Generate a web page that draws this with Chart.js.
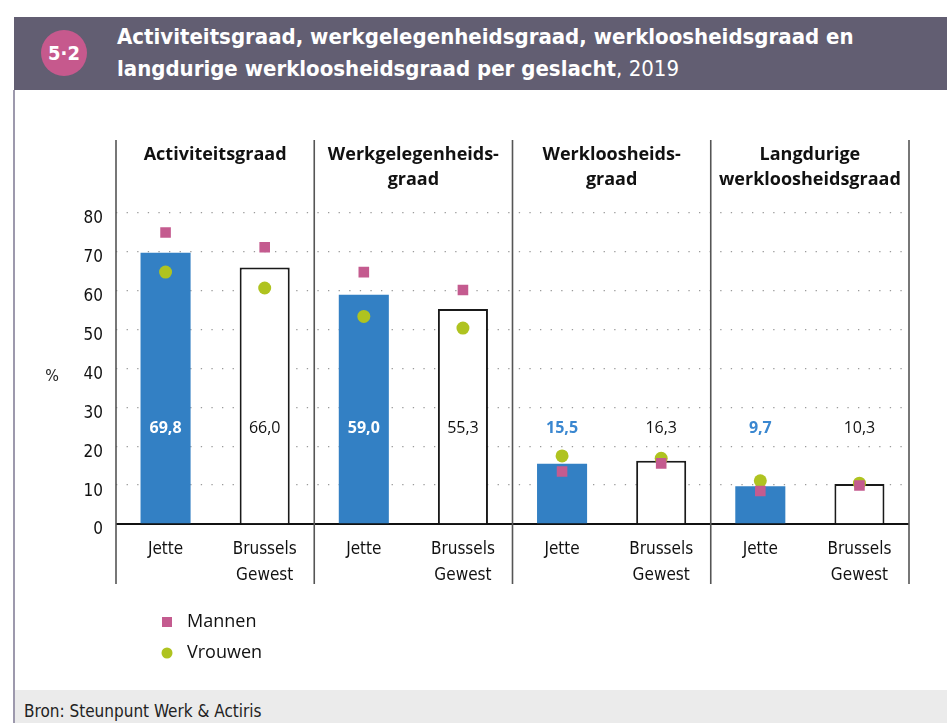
<!DOCTYPE html>
<html>
<head>
<meta charset="utf-8">
<script src="https://cdn.jsdelivr.net/npm/chart.js@4/dist/chart.umd.min.js"></script>
<style>
  html, body { margin: 0; padding: 0; background: #fff; }
  body { width: 947px; height: 723px; position: relative; overflow: hidden; font-family: 'Liberation Sans', sans-serif; }
  #header { position: absolute; left: 14px; top: 17px; width: 933px; height: 73px; background: #625e72; }
  #badge { position: absolute; left: 41px; top: 30px; width: 46px; height: 46px; border-radius: 50%; background: #c6598d;
           color: #fff; font: bold 20px 'DejaVu Sans Condensed', sans-serif; text-align: center; line-height: 46px; }
  #title { position: absolute; left: 117px; top: 21px; color: #fff; font: bold 22px 'DejaVu Sans Condensed', sans-serif; line-height: 32px; letter-spacing: 0px; }
  #title span { font-weight: normal; }
  #leftrule { position: absolute; left: 13px; top: 90px; width: 2px; height: 633px; background: #9d99ad; }
  #footer { position: absolute; left: 15px; top: 690px; width: 932px; height: 33px; background: #ebebeb; }
  #source { position: absolute; left: 24px; top: 701px; font: 17px 'DejaVu Sans Condensed', sans-serif; color: #222; }
  #chart { position: absolute; left: 14px; top: 90px; }
</style>
</head>
<body>
<div id="header"></div>
<div id="badge">5·2</div>
<div id="title">Activiteitsgraad, werkgelegenheidsgraad, werkloosheidsgraad en<br>langdurige werkloosheidsgraad per geslacht<span>, 2019</span></div>
<div id="leftrule"></div>
<div id="footer"></div>
<div id="source">Bron: Steunpunt Werk &amp; Actiris</div>
<canvas id="chart" width="933" height="600"></canvas>
<script>
const categories = ['Jette', ['Brussels', 'Gewest'], 'Jette', ['Brussels', 'Gewest'], 'Jette', ['Brussels', 'Gewest'], 'Jette', ['Brussels', 'Gewest']];
const groupTitles = [['Activiteitsgraad'], ['Werkgelegenheids-', 'graad'], ['Werkloosheids-', 'graad'], ['Langdurige', 'werkloosheidsgraad']];
const totaal = [69.8, 66.0, 59.0, 55.3, 15.5, 16.3, 9.7, 10.3];
const mannen = [75.0, 71.2, 64.8, 60.2, 13.5, 15.6, 8.5, 9.9];
const vrouwen = [64.8, 60.7, 53.4, 50.4, 17.5, 16.9, 11.1, 10.5];
const yTicks = [0, 10, 20, 30, 40, 50, 60, 70, 80];

const BLUE = '#3380c4';
const PINK = '#c45b8f';
const GREEN = '#afc320';
const NARROW = "'DejaVu Sans Condensed', sans-serif";

const isJette = (i) => i % 2 === 0;

const decorPlugin = {
  id: 'decor',
  beforeDatasetsDraw(chart) {
    const { ctx, chartArea: a, scales: { y } } = chart;
    ctx.save();
    ctx.strokeStyle = '#111';
    ctx.lineWidth = 2;
    const y0 = y.getPixelForValue(0);
    ctx.beginPath(); ctx.moveTo(a.left, y0); ctx.lineTo(a.right, y0); ctx.stroke();
    ctx.restore();
  },
  afterDatasetsDraw(chart) {
    const { ctx, chartArea: a, scales: { x, y } } = chart;
    ctx.save();
    const seps = [a.left];
    for (let i = 1; i < categories.length - 1; i += 2) {
      seps.push((x.getPixelForValue(i) + x.getPixelForValue(i + 1)) / 2);
    }
    seps.push(a.right);
    ctx.strokeStyle = '#555';
    ctx.lineWidth = 1.6;
    seps.forEach(sx => {
      ctx.beginPath(); ctx.moveTo(sx, 50); ctx.lineTo(sx, 494); ctx.stroke();
    });
    ctx.fillStyle = '#111';
    ctx.font = "bold 18px 'Open Sans', sans-serif";
    ctx.textAlign = 'center';
    ctx.textBaseline = 'middle';
    groupTitles.forEach((lines, g) => {
      const cx = (x.getPixelForValue(2 * g) + x.getPixelForValue(2 * g + 1)) / 2;
      lines.forEach((t, k) => ctx.fillText(t, cx, 65 + k * 25));
    });
    const ly = y.getPixelForValue(24.7);
    totaal.forEach((v, i) => {
      const txt = v.toFixed(1).replace('.', ',');
      const px = x.getPixelForValue(i);
      if (isJette(i)) {
        ctx.font = "bold 16px 'Open Sans', sans-serif";
        ctx.fillStyle = v > 30 ? '#ffffff' : '#3a87d0';
      } else {
        ctx.font = "16px 'Open Sans', sans-serif";
        ctx.fillStyle = '#111';
      }
      ctx.fillText(txt, px, ly);
    });
    ctx.font = "16px " + NARROW;
    ctx.fillStyle = '#222';
    ctx.fillText('%', 38, y.getPixelForValue(40) + 8);
    ctx.restore();
  },
  afterDraw(chart) {
    const { ctx } = chart;
    ctx.save();
    const items = [
      { label: chart.data.datasets[1].label, color: PINK, style: 'rect', y: 532 },
      { label: chart.data.datasets[2].label, color: GREEN, style: 'circle', y: 563 }
    ];
    ctx.font = "18px 'Open Sans', sans-serif";
    ctx.textAlign = 'left';
    ctx.textBaseline = 'middle';
    items.forEach(it => {
      ctx.fillStyle = it.color;
      if (it.style === 'rect') ctx.fillRect(148, it.y - 5, 10, 10);
      else { ctx.beginPath(); ctx.arc(153, it.y, 5.5, 0, Math.PI * 2); ctx.fill(); }
      ctx.fillStyle = '#111';
      ctx.fillText(it.label, 173, it.y);
    });
    ctx.restore();
  }
};

new Chart(document.getElementById('chart'), {
  type: 'bar',
  data: {
    labels: categories,
    datasets: [
      {
        label: 'Totaal',
        data: totaal,
        backgroundColor: totaal.map((v, i) => isJette(i) ? BLUE : '#ffffff'),
        borderColor: totaal.map((v, i) => isJette(i) ? BLUE : '#1a1a1a'),
        borderWidth: totaal.map((v, i) => isJette(i) ? 0 : 2),
        borderSkipped: 'start',
        barPercentage: 0.505,
        categoryPercentage: 1,
        order: 3
      },
      {
        type: 'line',
        label: 'Mannen',
        data: mannen,
        showLine: false,
        pointStyle: 'rect',
        pointRadius: 7.5,
        pointHoverRadius: 7.5,
        pointBackgroundColor: PINK,
        pointBorderColor: PINK,
        pointBorderWidth: 0,
        order: 1
      },
      {
        type: 'line',
        label: 'Vrouwen',
        data: vrouwen,
        showLine: false,
        pointStyle: 'circle',
        pointRadius: 6.5,
        pointHoverRadius: 6.5,
        pointBackgroundColor: GREEN,
        pointBorderColor: GREEN,
        pointBorderWidth: 0,
        order: 2
      }
    ]
  },
  options: {
    responsive: false,
    animation: false,
    devicePixelRatio: 1,
    layout: { padding: { left: 0, right: 38, top: 123, bottom: 106 } },
    plugins: { legend: { display: false }, tooltip: { enabled: false }, title: { display: false } },
    scales: {
      x: {
        grid: { display: false, drawTicks: false },
        border: { display: false },
        ticks: { color: '#111', font: { family: NARROW, size: 17, lineHeight: 1.55 }, padding: 12, maxRotation: 0, autoSkip: false },
        afterFit(s) { s.height = 60; }
      },
      y: {
        min: 0, max: 80,
        afterBuildTicks(s) { s.ticks = yTicks.map(v => ({ value: v })); },
        grid: {
          drawTicks: false,
          color: (c) => c.tick && c.tick.value === 0 ? 'rgba(0,0,0,0)' : '#9a9a9a',
          lineWidth: 1.3
        },
        border: { display: false, dash: [1.3, 9.3] },
        ticks: { color: '#111', font: { family: NARROW, size: 17 }, padding: 13, labelOffset: 6 },
        afterFit(s) { s.width = 102; }
      }
    }
  },
  plugins: [decorPlugin]
});
</script>
</body>
</html>
